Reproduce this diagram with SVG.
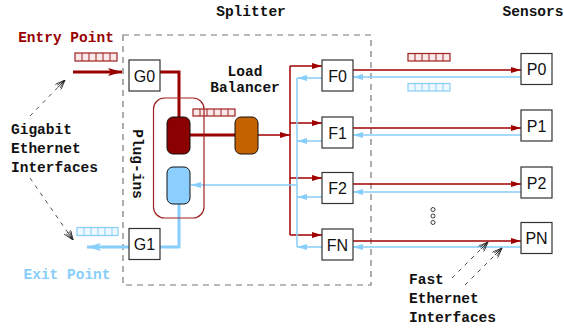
<svg xmlns="http://www.w3.org/2000/svg" width="564" height="330" viewBox="0 0 564 330">
<style>
.t{font-family:"Liberation Mono","Courier New",monospace;font-weight:bold;font-size:14.5px;fill:#111}
.bl{font-family:"Liberation Sans",Arial,sans-serif;font-size:16px;fill:#111;text-anchor:middle}
.box{fill:#fff;stroke:#333;stroke-width:1.2}
.r{fill:none;stroke:#a00000;stroke-width:1.5}
.b{fill:none;stroke:#87cefa;stroke-width:1.5}
.rT{fill:none;stroke:#990000;stroke-width:3}
.bT{fill:none;stroke:#87cefa;stroke-width:3}
.d{fill:none;stroke:#222;stroke-width:0.8;stroke-dasharray:4,5}
.sr{fill:#fbe9e9;stroke:#a02020;stroke-width:1.2}
.sb{fill:#eef8ff;stroke:#87cefa;stroke-width:1.2}
</style>
<defs>
<marker id="ar" markerUnits="userSpaceOnUse" viewBox="0 0 10 6" refX="10" refY="3" markerWidth="10" markerHeight="6" orient="auto"><path d="M0,0 L10,3 L0,6 z" fill="#a00000"/></marker>
<marker id="ab" markerUnits="userSpaceOnUse" viewBox="0 0 10 6" refX="10" refY="3" markerWidth="10" markerHeight="6" orient="auto"><path d="M0,0 L10,3 L0,6 z" fill="#87cefa"/></marker>
<marker id="arT" markerUnits="userSpaceOnUse" viewBox="0 0 14 8" refX="14" refY="4" markerWidth="14" markerHeight="8" orient="auto"><path d="M0,0 L14,4 L0,8 L3,4 z" fill="#990000"/></marker>
<marker id="abT" markerUnits="userSpaceOnUse" viewBox="0 0 14 8" refX="14" refY="4" markerWidth="14" markerHeight="8" orient="auto"><path d="M0,0 L14,4 L0,8 L3,4 z" fill="#87cefa"/></marker>
<marker id="hat" markerUnits="userSpaceOnUse" viewBox="0 0 10 8" refX="10" refY="4" markerWidth="10" markerHeight="8" orient="auto"><path d="M0,0 L10,4 L0,8 M1,2 L10,4 L1,6 M0,4 L10,4" fill="none" stroke="#222" stroke-width="0.8" stroke-dasharray="none"/></marker>
</defs>

<rect id="splitter" x="123" y="35" width="248" height="250" fill="none" stroke="#777" stroke-width="1.2" stroke-dasharray="6,5"/>
<text class="t" x="251" y="16" text-anchor="middle">Splitter</text>
<text class="t" x="533" y="16" text-anchor="middle">Sensors</text>
<text class="t" x="66" y="42" text-anchor="middle" style="fill:#990000">Entry Point</text>
<text class="t" x="67" y="279" text-anchor="middle" style="fill:#87cefa">Exit Point</text>
<text class="t" x="245" y="76" text-anchor="middle">Load</text>
<text class="t" x="245" y="92" text-anchor="middle">Balancer</text>
<text class="t" x="11" y="134">Gigabit</text>
<text class="t" x="11" y="153">Ethernet</text>
<text class="t" x="11" y="172">Interfaces</text>
<text class="t" x="409" y="284">Fast</text>
<text class="t" x="409" y="303">Ethernet</text>
<text class="t" x="409" y="322">Interfaces</text>

<g id="connectors">
<path class="rT" d="M73,72 H122" marker-end="url(#arT)"/>
<path class="rT" d="M160,72 H179 V117"/>
<path class="rT" d="M190,135 H235"/>
<path class="r" d="M258,135 H290" marker-end="url(#ar)"/>
<path class="r" d="M290,66 V235"/>
<path class="r" d="M290,66 H322" marker-end="url(#ar)"/>
<path class="r" d="M290,123 H322" marker-end="url(#ar)"/>
<path class="r" d="M290,178 H322" marker-end="url(#ar)"/>
<path class="r" d="M290,235 H322" marker-end="url(#ar)"/>
<path class="r" d="M353,70 H521" marker-end="url(#ar)"/>
<path class="r" d="M353,128 H521" marker-end="url(#ar)"/>
<path class="r" d="M353,184 H521" marker-end="url(#ar)"/>
<path class="r" d="M353,241 H521" marker-end="url(#ar)"/>
<path class="b" d="M521,77 H353" marker-end="url(#ab)"/>
<path class="b" d="M521,135 H353" marker-end="url(#ab)"/>
<path class="b" d="M521,192 H353" marker-end="url(#ab)"/>
<path class="b" d="M521,247 H353" marker-end="url(#ab)"/>
<path class="b" d="M297,78 V247"/>
<path class="b" d="M322,78 H297" marker-end="url(#ab)"/>
<path class="b" d="M322,141 H297" marker-end="url(#ab)"/>
<path class="b" d="M322,197 H297" marker-end="url(#ab)"/>
<path class="b" d="M322,247 H297" marker-end="url(#ab)"/>
<path class="b" d="M297,185 H191" marker-end="url(#ab)"/>
<path class="bT" d="M179,204 V247 H160"/>
<path class="bT" d="M129,247 H87" marker-end="url(#abT)"/>
<path class="d" d="M30,116 L65,80" marker-end="url(#hat)"/>
<path class="d" d="M30,178 L73,240" marker-end="url(#hat)"/>
<path class="d" d="M452,278 L488,242" marker-end="url(#hat)"/>
<path class="d" d="M465,285 L502,248" marker-end="url(#hat)"/>
</g>

<g id="packets">
<rect class="sr" x="75" y="53" width="42" height="8"/>
<path d="M82,53 V61 M89,53 V61 M96,53 V61 M103,53 V61 M110,53 V61" stroke="#a02020" stroke-width="1"/>
<rect class="sr" x="193" y="109" width="42" height="7"/>
<path d="M200,109 V116 M207,109 V116 M214,109 V116 M221,109 V116 M228,109 V116" stroke="#a02020" stroke-width="1"/>
<rect class="sr" x="408" y="53.5" width="42" height="7.5"/>
<path d="M415,53.5 V61 M422,53.5 V61 M429,53.5 V61 M436,53.5 V61 M443,53.5 V61" stroke="#a02020" stroke-width="1"/>
<rect class="sb" x="408" y="83.5" width="42" height="7.5"/>
<path d="M415,83.5 V91 M422,83.5 V91 M429,83.5 V91 M436,83.5 V91 M443,83.5 V91" stroke="#87cefa" stroke-width="1"/>
<rect class="sb" x="77" y="227.5" width="41" height="8"/>
<path d="M84,227.5 V235.5 M91,227.5 V235.5 M98,227.5 V235.5 M105,227.5 V235.5 M112,227.5 V235.5" stroke="#87cefa" stroke-width="1"/>
</g>

<g id="plugins">
<rect x="153.5" y="98" width="50.5" height="120" rx="11" fill="none" stroke="#a02020" stroke-width="1.2"/>
<text class="t" transform="translate(133,164) rotate(90)" text-anchor="middle">Plug-ins</text>
</g>
<g id="plugin-red"><rect x="167" y="117" width="23" height="37" rx="6" fill="#8b0000" stroke="#111" stroke-width="1"/></g>
<g id="plugin-blue"><rect x="167" y="167" width="23" height="37" rx="6" fill="#8ccfff" stroke="#111" stroke-width="1"/></g>
<g id="balancer"><rect x="235" y="117" width="23" height="37" rx="6" fill="#c46200" stroke="#111" stroke-width="1"/></g>

<g id="G0"><rect class="box" x="129" y="60" width="31" height="31"/><text class="bl" x="144.5" y="81.5">G0</text></g>
<g id="G1"><rect class="box" x="129" y="228.5" width="31" height="31"/><text class="bl" x="144.5" y="250">G1</text></g>
<g id="F0"><rect class="box" x="322" y="60" width="31" height="31"/><text class="bl" x="337.5" y="81.5">F0</text></g>
<g id="F1"><rect class="box" x="322" y="117" width="31" height="31"/><text class="bl" x="337.5" y="138.5">F1</text></g>
<g id="F2"><rect class="box" x="322" y="172.5" width="31" height="31"/><text class="bl" x="337.5" y="194">F2</text></g>
<g id="FN"><rect class="box" x="322" y="229" width="31" height="31"/><text class="bl" x="337.5" y="250.5">FN</text></g>
<g id="P0"><rect class="box" x="521" y="53.5" width="31" height="31"/><text class="bl" x="536.5" y="75">P0</text></g>
<g id="P1"><rect class="box" x="521" y="110" width="31" height="31"/><text class="bl" x="536.5" y="131.5">P1</text></g>
<g id="P2"><rect class="box" x="521" y="167" width="31" height="31"/><text class="bl" x="536.5" y="188.5">P2</text></g>
<g id="PN"><rect class="box" x="521" y="222.5" width="31" height="31"/><text class="bl" x="536.5" y="244">PN</text></g>

<g id="dots" fill="#fff" stroke="#111" stroke-width="0.8">
<circle cx="433" cy="209.5" r="2"/><circle cx="433" cy="216" r="2"/><circle cx="433" cy="222.5" r="2"/>
</g>
</svg>
